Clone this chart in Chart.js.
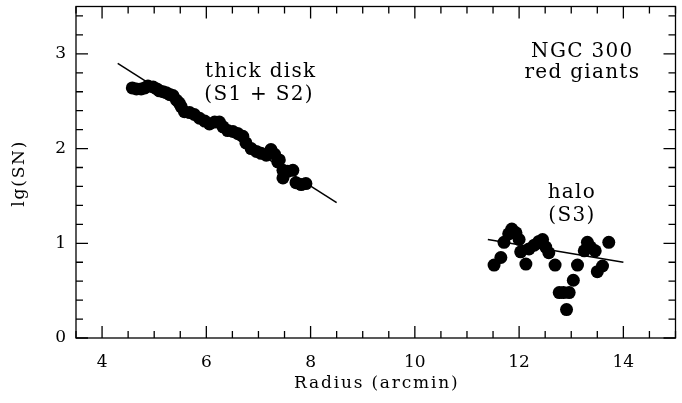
<!DOCTYPE html>
<html>
<head>
<meta charset="utf-8">
<script src="https://cdn.jsdelivr.net/npm/chart.js@4/dist/chart.umd.min.js"></script>
<style>
  html, body { margin: 0; padding: 0; background: #fff; }
  canvas { display: block; }
</style>
</head>
<body>
<canvas id="chart" width="682" height="403"></canvas>
<script>
// thick disk (S1 + S2) star counts
const diskRadius = [4.58, 4.66, 4.75, 4.82, 4.88, 4.98, 5.05, 5.10, 5.17, 5.23, 5.30, 5.36, 5.43, 5.48, 5.52,
  5.58, 5.68, 5.77, 5.87, 5.97, 6.06, 6.16, 6.25, 6.32, 6.41, 6.51, 6.60, 6.70, 6.76, 6.86, 6.96,
  7.05, 7.15, 7.24, 7.31, 7.37, 7.40, 7.47, 7.47, 7.56, 7.66, 7.72, 7.82, 7.91];
const diskLgSN = [2.64, 2.63, 2.63, 2.64, 2.66, 2.65, 2.63, 2.61, 2.60, 2.59, 2.57, 2.56, 2.51, 2.48, 2.44,
  2.39, 2.38, 2.36, 2.32, 2.29, 2.26, 2.28, 2.28, 2.23, 2.19, 2.18, 2.16, 2.13, 2.06, 2.00, 1.97,
  1.95, 1.93, 1.99, 1.94, 1.86, 1.88, 1.77, 1.69, 1.76, 1.77, 1.64, 1.62, 1.63];

// halo (S3) star counts
const haloRadius = [11.52, 11.65, 11.71, 11.80, 11.86, 11.94, 12.00, 12.03, 12.13, 12.19, 12.29, 12.38,
  12.45, 12.51, 12.57, 12.69, 12.77, 12.85, 12.96, 12.91, 13.04, 13.12, 13.25, 13.31, 13.37, 13.46,
  13.50, 13.60, 13.72];
const haloLgSN = [0.77, 0.85, 1.01, 1.10, 1.15, 1.11, 1.04, 0.91, 0.78, 0.94, 0.98, 1.02,
  1.04, 0.96, 0.90, 0.77, 0.48, 0.48, 0.48, 0.30, 0.61, 0.77, 0.92, 1.01, 0.96, 0.92,
  0.70, 0.76, 1.01];

// linear fits
const diskFitRadius = [4.3, 8.5];
const diskFitLgSN = [2.90, 1.43];
const haloFitRadius = [11.4, 14.0];
const haloFitLgSN = [1.04, 0.80];

// axes
const xMin = 3.5, xMax = 15, xMinorStep = 0.5;
const yMin = 0, yMax = 3.5, yMinorStep = 0.2;
const xTickLabels = [4, 6, 8, 10, 12, 14];
const yTickLabels = [0, 1, 2, 3];

const serif = '"DejaVu Serif", serif';

const toPoints = (xs, ys) => xs.map((x, i) => ({ x: x, y: ys[i] }));

// text drawn inside the plot: [text, radius, lgSN baseline]
const notes = [
  ['thick disk', 7.03, 2.756],
  ['(S1 + S2)', 7.0, 2.515],
  ['NGC 300', 13.2, 2.966],
  ['red giants', 13.2, 2.745],
  ['halo', 13.0, 1.478],
  ['(S3)', 13.0, 1.236]
];

const frame = {
  id: 'frame',
  afterDraw(chart) {
    const ctx = chart.ctx;
    const a = chart.chartArea;
    const xs = chart.scales.x, ys = chart.scales.y;
    ctx.save();
    ctx.strokeStyle = '#000';
    ctx.lineWidth = 1.3;
    ctx.strokeRect(a.left, a.top, a.right - a.left, a.bottom - a.top);

    // inward ticks on all four sides
    ctx.beginPath();
    for (let i = 0; xMin + i * xMinorStep <= xMax + 1e-9; i++) {
      const v = xMin + i * xMinorStep;
      const px = xs.getPixelForValue(v);
      const len = xTickLabels.some(t => Math.abs(t - v) < 1e-6) ? 12 : 7;
      ctx.moveTo(px, a.bottom); ctx.lineTo(px, a.bottom - len);
      ctx.moveTo(px, a.top); ctx.lineTo(px, a.top + len);
    }
    for (let i = 0; yMin + i * yMinorStep <= yMax + 1e-9; i++) {
      const v = yMin + i * yMinorStep;
      const py = ys.getPixelForValue(v);
      const len = yTickLabels.some(t => Math.abs(t - v) < 1e-6) ? 12 : 7;
      ctx.moveTo(a.left, py); ctx.lineTo(a.left + len, py);
      ctx.moveTo(a.right, py); ctx.lineTo(a.right - len, py);
    }
    ctx.stroke();

    ctx.fillStyle = '#000';
    ctx.textAlign = 'center';
    ctx.textBaseline = 'alphabetic';

    // labels in the plot
    ctx.font = '20px ' + serif;
    ctx.letterSpacing = '1.3px';
    notes.forEach(([text, r, lg]) => {
      ctx.fillText(text, xs.getPixelForValue(r) + 0.65, ys.getPixelForValue(lg));
    });

    // axis titles
    ctx.font = '17px ' + serif;
    ctx.letterSpacing = '1.8px';
    ctx.textBaseline = 'middle';
    ctx.fillText('Radius (arcmin)', (a.left + a.right) / 2 + 1, 384);
    ctx.translate(20, (a.top + a.bottom) / 2 + 2);
    ctx.rotate(-Math.PI / 2);
    ctx.fillText('lg(SN)', 1, 0);
    ctx.restore();
  }
};

const pointStyle = {
  showLine: false,
  pointRadius: 6.5,
  pointHoverRadius: 6.5,
  pointBackgroundColor: '#000',
  pointBorderWidth: 0
};
const lineStyle = {
  showLine: true,
  pointRadius: 0,
  borderColor: '#000',
  borderWidth: 1.5
};

new Chart(document.getElementById('chart'), {
  type: 'scatter',
  data: {
    datasets: [
      { label: 'disk fit', data: toPoints(diskFitRadius, diskFitLgSN), ...lineStyle },
      { label: 'halo fit', data: toPoints(haloFitRadius, haloFitLgSN), ...lineStyle },
      { label: 'thick disk', data: toPoints(diskRadius, diskLgSN), ...pointStyle },
      { label: 'halo', data: toPoints(haloRadius, haloLgSN), ...pointStyle }
    ]
  },
  options: {
    responsive: false,
    animation: false,
    events: [],
    layout: { padding: { left: 0, right: 6, top: 4, bottom: 0 } },
    plugins: {
      legend: { display: false },
      tooltip: { enabled: false }
    },
    scales: {
      x: {
        type: 'linear',
        min: xMin,
        max: xMax,
        grid: { display: false, drawTicks: false },
        border: { display: false },
        afterBuildTicks: (scale) => { scale.ticks = xTickLabels.map(v => ({ value: v })); },
        afterFit: (scale) => {
          scale.height = 65;
          scale.paddingLeft = 0;
          scale.paddingRight = 0;
        },
        ticks: {
          color: '#000',
          padding: 14,
          maxRotation: 0,
          font: { family: serif, size: 17 }
        }
      },
      y: {
        type: 'linear',
        min: yMin,
        max: yMax,
        grid: { display: false, drawTicks: false },
        border: { display: false },
        afterBuildTicks: (scale) => { scale.ticks = yTickLabels.map(v => ({ value: v })); },
        afterFit: (scale) => {
          scale.width = 76;
          scale.paddingTop = 0;
          scale.paddingBottom = 0;
        },
        ticks: {
          color: '#000',
          padding: 10,
          font: { family: serif, size: 17 }
        }
      }
    }
  },
  plugins: [frame]
});
</script>
</body>
</html>
